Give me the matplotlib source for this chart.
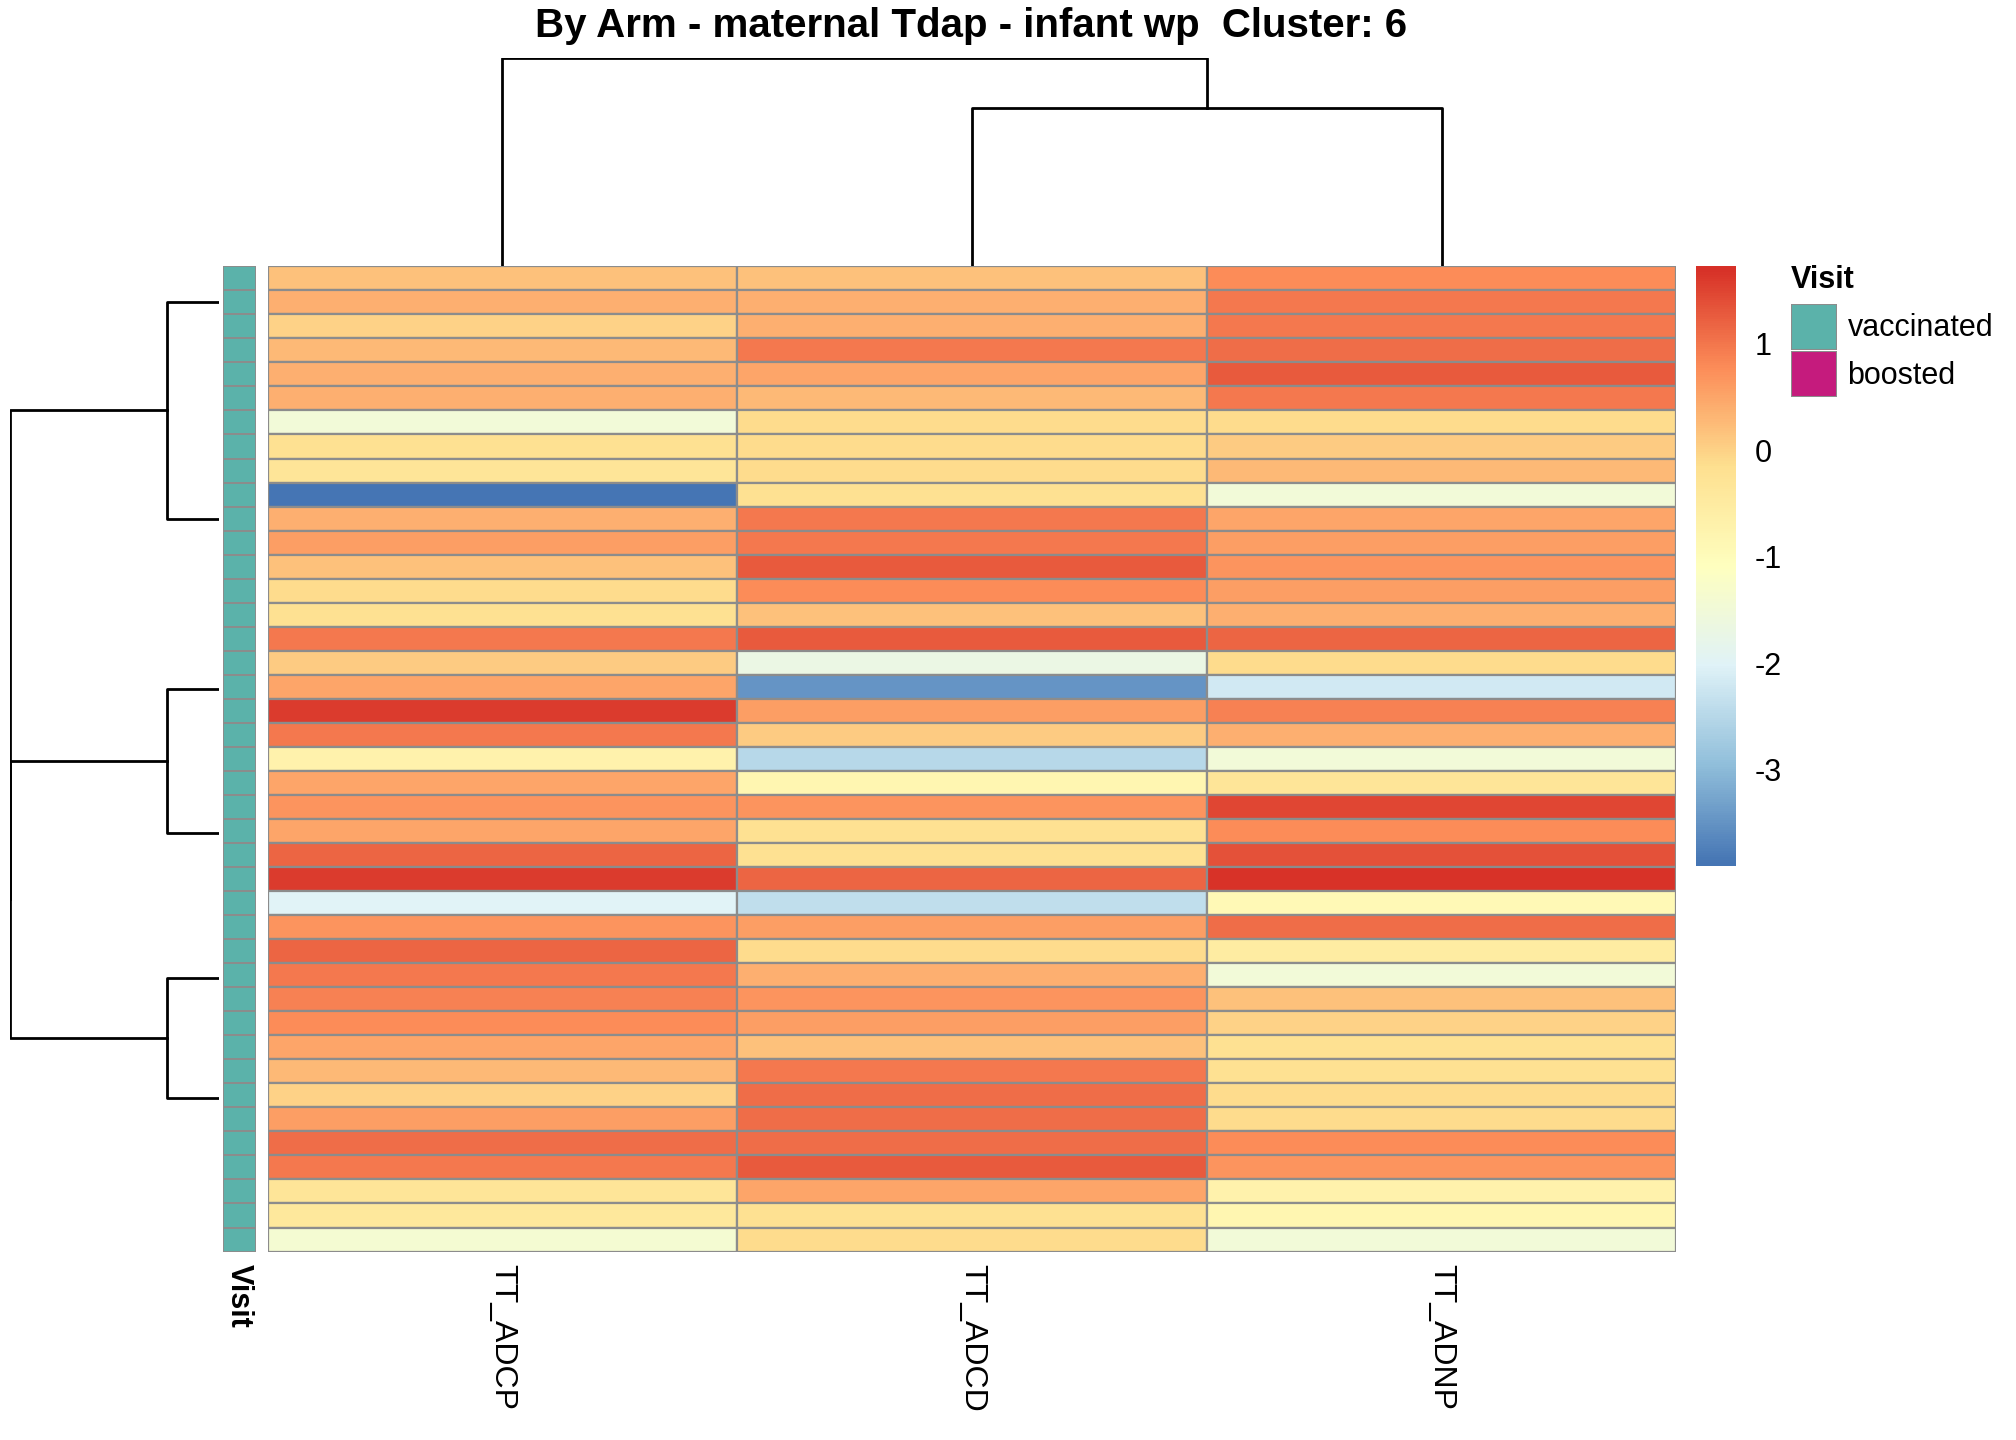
import numpy as np
import matplotlib
matplotlib.use("Agg")
import matplotlib.pyplot as plt
from matplotlib.colors import LinearSegmentedColormap, Normalize
from matplotlib.patches import Rectangle

plt.rcParams['font.family'] = ['Liberation Sans', 'DejaVu Sans']

features = ["TT_ADCP", "TT_ADCD", "TT_ADNP"]
adcp = [0.2, 0.4, 0.0, 0.3, 0.4, 0.4, -1.5, -0.2, -0.3, -3.9, 0.4, 0.6, 0.2, -0.1,
        -0.2, 1.0, 0.1, 0.5, 1.6, 1.0, -0.7, 0.5, 0.7, 0.5, 1.2, 1.6, -2.0, 0.7,
        1.2, 1.0, 0.9, 0.8, 0.5, 0.3, 0.0, 0.6, 1.1, 1.0, -0.3, -0.4, -1.4]
adcd = [0.2, 0.4, 0.4, 1.0, 0.5, 0.3, -0.1, -0.1, -0.1, -0.2, 1.0, 1.0, 1.3, 0.8,
        0.2, 1.3, -1.7, -3.5, 0.6, 0.1, -2.5, -0.8, 0.7, -0.2, -0.2, 1.2, -2.4, 0.6,
        -0.1, 0.4, 0.7, 0.6, 0.2, 1.0, 1.1, 1.1, 1.1, 1.3, 0.5, -0.2, -0.1]
adnp = [0.8, 1.0, 1.0, 1.1, 1.3, 1.0, -0.1, 0.1, 0.3, -1.5, 0.5, 0.6, 0.7, 0.6,
        0.4, 1.2, -0.1, -2.2, 0.9, 0.4, -1.5, -0.3, 1.5, 0.8, 1.4, 1.7, -0.9, 1.1,
        -0.5, -1.5, 0.2, 0.0, -0.2, -0.2, -0.1, -0.1, 0.8, 0.7, -0.7, -0.8, -1.5]
vmin, vmax = -3.9, 1.73
cbar_ticks = [1, 0, -1, -2, -3]
visit_levels = ["vaccinated", "boosted"]
visit_colors = ["#5BB2AA", "#C51B7D"]

# row dendrogram: (left child, right child, height); leaves are sub-cluster centres
row_sub = [1.5, 10.5, 17.6, 23.6, 29.6, 34.6]
row_tree = (("s0", "s1", 0.25), (("s2", "s3", 0.25), ("s4", "s5", 0.25), 1.0), 1.0)
col_tree = ("c0", ("c1", "c2", 0.76), 1.0)

data = np.array([adcp, adcd, adnp]).T
nrow, ncol = data.shape
cmap = LinearSegmentedColormap.from_list("rdylbu", ["#4575B4", "#91BFDB", "#E0F3F8", "#FFFFBF",
                                                    "#FEE090", "#FC8D59", "#D73027"])
norm = Normalize(vmin, vmax)

fig = plt.figure(figsize=(20.16, 14.4), dpi=100)
W, H = 1567.0, 1119.5
def ax_at(x0, y0, x1, y1):
    return fig.add_axes([x0 / W, 1 - y1 / H, (x1 - x0) / W, (y1 - y0) / H])

ax = ax_at(208, 207, 1303, 973)
for i in range(nrow):
    for j in range(ncol):
        ax.add_patch(Rectangle((j, i), 1, 1, facecolor=cmap(norm(data[i, j])),
                               edgecolor="#8C8C8C", linewidth=1.6))
ax.set_xlim(0, ncol); ax.set_ylim(nrow, 0)
ax.axis("off")
for j, f in enumerate(features):
    ax.text(j + 0.5, nrow + 0.5, f, rotation=-90, ha="center", va="top", fontsize=23)

aa = ax_at(173, 207, 199, 973)
for i in range(nrow):
    aa.add_patch(Rectangle((0, i), 1, 1, facecolor=visit_colors[0], edgecolor="#8C8C8C", linewidth=1.4))
aa.set_xlim(0, 1); aa.set_ylim(nrow, 0); aa.axis("off")
aa.text(0.5, nrow + 0.5, "Visit", rotation=-90, ha="center", va="top", fontsize=22, fontweight="bold")

def draw(axd, node, pos, orient):
    if isinstance(node, str):
        return pos[node], 0.0
    l, r, h = node
    pl, hl = draw(axd, l, pos, orient)
    pr, hr = draw(axd, r, pos, orient)
    if orient == "row":
        axd.plot([hl, h, h, hr], [pl, pl, pr, pr], color="black", lw=2)
    else:
        axd.plot([pl, pl, pr, pr], [hl, h, h, hr], color="black", lw=2)
    return (pl + pr) / 2, h

rd = ax_at(8, 207, 170, 973)
draw(rd, row_tree, {"s%d" % k: v for k, v in enumerate(row_sub)}, "row")
rd.set_xlim(1.0, 0); rd.set_ylim(nrow, 0); rd.axis("off")

cd = ax_at(208, 45, 1303, 207)
draw(cd, col_tree, {"c%d" % k: k + 0.5 for k in range(3)}, "col")
cd.set_xlim(0, ncol); cd.set_ylim(0, 1.0); cd.axis("off")

cb = ax_at(1318, 207, 1349, 673)
grad = np.linspace(vmax, vmin, 200).reshape(-1, 1)
cb.imshow(grad, aspect="auto", cmap=cmap, norm=norm, extent=[0, 1, vmin, vmax])
cb.set_xticks([]); cb.yaxis.tick_right()
cb.set_yticks(cbar_ticks)
cb.set_yticklabels([str(t) for t in cbar_ticks])
cb.tick_params(length=0, labelsize=22, pad=14)
for s in cb.spines.values():
    s.set_visible(False)

fig.text(1392 / W, 1 - 218 / H, "Visit", fontsize=22, fontweight="bold", va="center")
for k, (lab, c) in enumerate(zip(visit_levels, visit_colors)):
    y0 = 236 + k * 37
    la = ax_at(1392, y0, 1428, y0 + 36)
    la.add_patch(Rectangle((0, 0), 1, 1, facecolor=c, edgecolor="#8C8C8C", lw=1.5))
    la.axis("off")
    fig.text(1436 / W, 1 - (y0 + 19) / H, lab, fontsize=22, va="center")

fig.text(755 / W, 1 - 20 / H, "By Arm - maternal Tdap - infant wp  Cluster: 6",
         fontsize=29, fontweight="bold", ha="center", va="center")
fig.savefig("out.png", dpi=100)
